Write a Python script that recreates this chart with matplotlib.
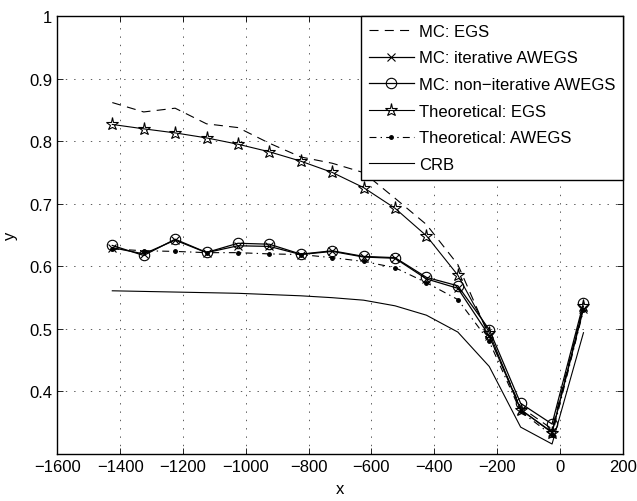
import matplotlib
matplotlib.use("Agg")
import matplotlib.pyplot as plt

plt.rcParams['font.family'] = ['Liberation Sans', 'DejaVu Sans']
plt.rcParams['lines.scale_dashes'] = False

# dados
x = [-1425, -1325, -1225, -1125, -1025, -925, -825, -725,
     -625, -525, -425, -325, -225, -125, -25, 75]

mc_egs = [0.862, 0.847, 0.853, 0.828, 0.822, 0.797, 0.775, 0.765,
          0.750, 0.709, 0.667, 0.603, 0.488, 0.375, 0.340, 0.537]
mc_iter = [0.630, 0.620, 0.642, 0.622, 0.633, 0.632, 0.619, 0.624,
           0.615, 0.613, 0.580, 0.565, 0.489, 0.371, 0.335, 0.532]
mc_noniter = [0.6335, 0.6175, 0.6435, 0.6223, 0.637, 0.6355, 0.6196, 0.625,
              0.616, 0.614, 0.5825, 0.569, 0.499, 0.381, 0.348, 0.5415]
theo_egs = [0.827, 0.820, 0.8135, 0.8055, 0.7954, 0.7833, 0.7683, 0.7503,
            0.726, 0.693, 0.649, 0.586, 0.494, 0.371, 0.334, 0.536]
theo_awegs = [0.628, 0.625, 0.624, 0.622, 0.622, 0.620, 0.619, 0.614,
              0.608, 0.598, 0.574, 0.547, 0.480, 0.368, 0.330, 0.530]
crb = [0.561, 0.560, 0.559, 0.558, 0.557, 0.555, 0.553, 0.550,
       0.546, 0.537, 0.522, 0.495, 0.440, 0.343, 0.316, 0.494]

xticks = [-1600, -1400, -1200, -1000, -800, -600, -400, -200, 0, 200]
yticks = [0.4, 0.5, 0.6, 0.7, 0.8, 0.9, 1.0]
ytick_labels = ['0.4', '0.5', '0.6', '0.7', '0.8', '0.9', '1']

fig = plt.figure(figsize=(6.37, 5.02), dpi=100)
ax = fig.add_axes([0.090, 0.0936, 0.8876, 0.872])

ax.plot(x, mc_egs, color='k', lw=0.8, dashes=(6.5, 4.5), label='MC: EGS')
ax.plot(x, mc_iter, color='k', lw=0.9, marker='x', ms=5.5, mew=0.8,
        label='MC: iterative AWEGS')
ax.plot(x, mc_noniter, color='k', lw=0.9, marker='o', ms=7.5, mfc='none',
        mew=0.8, label='MC: non\u2212iterative AWEGS')
ax.plot(x, theo_egs, color='k', lw=0.8, marker='*', ms=9.5, mfc='none',
        mew=0.8, label='Theoretical: EGS')
ax.plot(x, theo_awegs, color='k', lw=0.8, dashes=(5, 3, 1, 3), marker='.',
        ms=5, label='Theoretical: AWEGS')
ax.plot(x, crb, color='k', lw=0.8, label='CRB')

ax.set_xlim(-1600, 200)
ax.set_ylim(0.3, 1)
ax.set_xticks(xticks)
ax.set_yticks(yticks)
ax.set_yticklabels(ytick_labels)
ax.tick_params(direction='in', top=True, right=True, length=4,
               labelsize=12, width=0.6)
ax.grid(True, color='0.35', linestyle=(0, (1, 5)), lw=0.7)
for s in ax.spines.values():
    s.set_linewidth(1.0)

ax.set_xlabel('x', fontsize=12, labelpad=5)
ax.set_ylabel('y', fontsize=12, labelpad=8)

leg = ax.legend(loc='upper right', bbox_to_anchor=(1, 1), borderaxespad=0,
                fontsize=12, fancybox=False, framealpha=1, edgecolor='k',
                handlelength=2.7, handletextpad=0.3, labelspacing=0.7,
                borderpad=0.45)
leg.get_frame().set_linewidth(1.0)

fig.savefig('out.png', dpi=100)
